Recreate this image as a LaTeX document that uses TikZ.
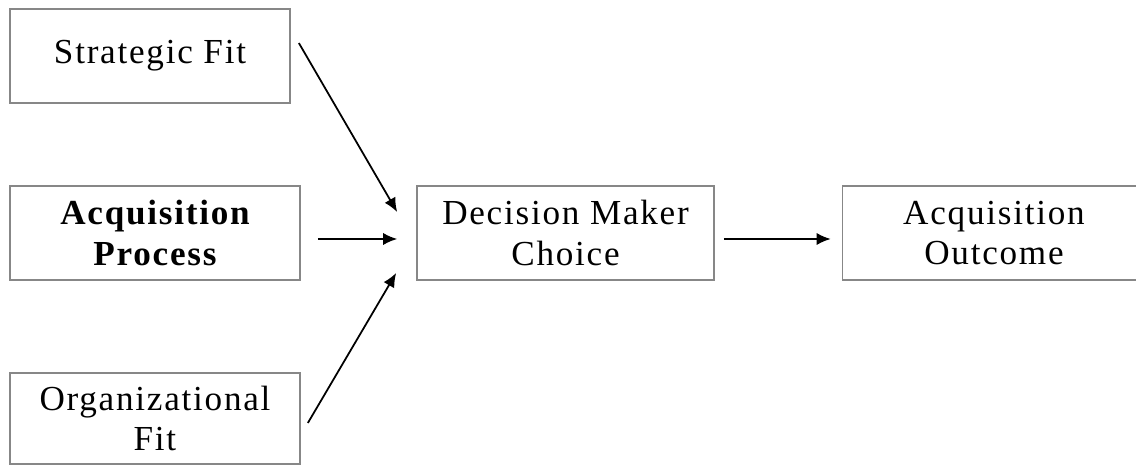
\documentclass[tikz,border=0pt]{standalone}
\usepackage{fontspec}
\setmainfont{Liberation Serif}[LetterSpace=5]
\usetikzlibrary{arrows.meta}
\definecolor{boxgray}{RGB}{135,135,135}
\begin{document}
\begin{tikzpicture}[x=0.02cm, y=0.02cm,
  factor/.style={draw=boxgray, line width=1pt, inner sep=0pt, align=center,
    font=\fontsize{20}{23}\selectfont},
  arr/.style={line width=1pt, -{Latex[length=8pt,width=7pt]}}]
\useasboundingbox (0,0) rectangle (1136,466);

\node[factor, minimum width=5.6cm, minimum height=1.88cm] (strat) at (150,410) {Strategic Fit};
\node[factor, minimum width=5.8cm, minimum height=1.88cm] (proc) at (155,233) {\bfseries Acquisition\\ \bfseries Process};
\node[factor, minimum width=5.8cm, minimum height=1.82cm] (org) at (155,47.5) {Organizational\\ Fit};
\node[factor, minimum width=5.94cm, minimum height=1.88cm] (dmc) at (565.5,233) {Decision Maker\\ Choice};
\node[factor, minimum width=6.06cm, minimum height=1.88cm] (out) at (994,233) {Acquisition\\ Outcome};

\draw[arr] ([shift={(8,13)}]strat.east) -- ([shift={(-19,21)}]dmc.west);
\draw[arr] ([shift={(17,-6)}]proc.east) -- ([shift={(-19,-6)}]dmc.west);
\draw[arr] ([shift={(7,-4.5)}]org.east) -- ([shift={(-20,-40)}]dmc.west);
\draw[arr] ([shift={(9,-6)}]dmc.east) -- ([shift={(-11,-6)}]out.west);
\end{tikzpicture}
\end{document}
